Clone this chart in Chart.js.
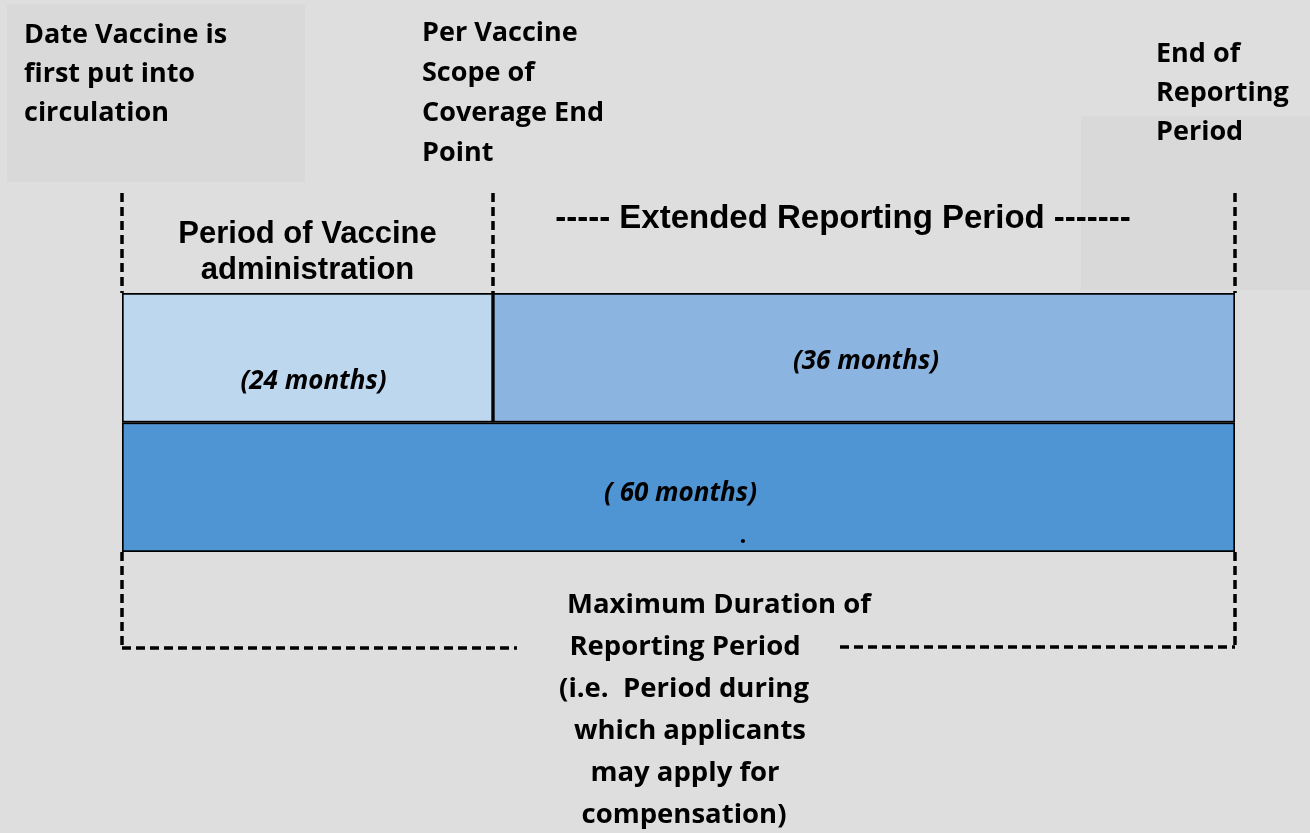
<!DOCTYPE html>
<html>
<head>
<meta charset="utf-8">
<script src="https://cdn.jsdelivr.net/npm/chart.js@4.4.0/dist/chart.umd.min.js"></script>
<style>
	html, body { margin: 0; padding: 0; background: #dedede; }
	#wrap { width: 1310px; height: 833px; position: relative; }
</style>
</head>
<body>
<div id="wrap"><canvas id="period-chart"></canvas></div>
<script>
// rows of the timeline
var rows = ['Administration / extended', 'Maximum duration'];
// drawn span of each segment (the picture is not to scale: the first box is a third of the row)
var adminSpan = [20, 0];
var extendedSpan = [40, 0];
var maxSpan = [0, 60];
var segmentLabels = ['(24 months)', '(36 months)', '( 60 months)'];
var axisMax = 60;

var barColours = ['#bdd7ee', '#8bb5e0', '#4f94d3'];

var calibri = '"Open Sans", Lato, sans-serif';
var arial = '"Liberation Sans", Arial, sans-serif';

function dashedLine(ctx, x1, y1, x2, y2){
	ctx.beginPath();
	ctx.moveTo(x1, y1);
	ctx.lineTo(x2, y2);
	ctx.stroke();
}

function lines(ctx, list, x, y, step){
	list.forEach(function(t, i){
		ctx.fillText(t, x, y + i * step);
	});
}

var diagramPlugin = {
	id: 'diagram',
	beforeDraw: function(chart){
		var ctx = chart.ctx;
		ctx.save();
		ctx.fillStyle = '#dedede';
		ctx.fillRect(0, 0, chart.width, chart.height);
		ctx.fillStyle = '#d9d9d9';
		ctx.fillRect(7, 4, 298, 178);
		ctx.fillRect(1081, 116, 229, 174);
		ctx.restore();
	},
	afterDatasetsDraw: function(chart){
		var ctx = chart.ctx;
		var x = chart.scales.x;
		var y = chart.scales.y;
		var x0 = x.getPixelForValue(0);
		var xSplit = x.getPixelForValue(adminSpan[0]);
		var xEnd = x.getPixelForValue(axisMax);
		var top = chart.chartArea.top;
		var bottom = chart.chartArea.bottom;

		ctx.save();
		// dashed markers
		ctx.strokeStyle = '#000';
		ctx.lineWidth = 3.5;
		ctx.setLineDash([9, 5]);
		[x0, xSplit, xEnd].forEach(function(px){
			dashedLine(ctx, px, 193, px, top);
		});
		dashedLine(ctx, x0, bottom, x0, 648);
		dashedLine(ctx, xEnd, bottom, xEnd, 648);
		dashedLine(ctx, x0, 648, 517, 648);
		dashedLine(ctx, 840, 647, xEnd, 647);
		ctx.setLineDash([]);

		// segment labels
		ctx.fillStyle = '#000';
		ctx.textAlign = 'center';
		ctx.textBaseline = 'middle';
		ctx.font = 'italic bold 26px ' + calibri;
		ctx.fillText(segmentLabels[0], (x0 + xSplit) / 2 + 6, y.getPixelForValue(0) + 24);
		ctx.fillText(segmentLabels[1], (xSplit + xEnd) / 2 + 2, y.getPixelForValue(0) + 4);
		ctx.fillText(segmentLabels[2], (x0 + xEnd) / 2 + 2, y.getPixelForValue(1) + 6);
		ctx.font = 'bold 24px ' + calibri;
		ctx.fillText('.', 743, 536);

		// headings
		ctx.font = 'bold 31px ' + arial;
		lines(ctx, ['Period of Vaccine', 'administration'], (x0 + xSplit) / 2, 234, 36);
		ctx.font = 'bold 33px ' + arial;
		ctx.fillText('----- Extended Reporting Period -------', 843, 219);

		ctx.textAlign = 'left';
		ctx.font = 'bold 27px ' + calibri;
		lines(ctx, ['Date Vaccine is', 'first put into', 'circulation'], 24, 35, 39);
		lines(ctx, ['Per Vaccine', 'Scope of', 'Coverage End', 'Point'], 422, 33, 40);
		lines(ctx, ['End of', 'Reporting', 'Period'], 1156, 54, 39);

		ctx.textAlign = 'center';
		ctx.font = 'bold 27.5px ' + calibri;
		var bottomText = ['Maximum Duration of', 'Reporting Period', '(i.e.  Period during', 'which applicants', 'may apply for', 'compensation)'];
		var bottomX = [719, 685, 684, 690, 685, 684];
		bottomText.forEach(function(t, i){
			ctx.fillText(t, bottomX[i], 605 + i * 42);
		});
		ctx.restore();
	}
};

var chartElem = document.getElementById('period-chart');

var periodChart = new Chart(chartElem, {
	type: 'bar',
	data: {
		labels: rows,
		datasets: [
			{ label: 'Period of Vaccine administration', data: adminSpan, backgroundColor: barColours[0] },
			{ label: 'Extended Reporting Period', data: extendedSpan, backgroundColor: barColours[1] },
			{ label: 'Maximum Duration of Reporting Period', data: maxSpan, backgroundColor: barColours[2] }
		].map(function(ds){
			ds.borderColor = '#000';
			ds.borderWidth = 2;
			ds.borderSkipped = false;
			ds.categoryPercentage = 1;
			ds.barPercentage = 1;
			return ds;
		})
	},
	options: {
		indexAxis: 'y',
		responsive: true,
		maintainAspectRatio: false,
		animation: false,
		layout: {
			padding: { left: 122, right: 75, top: 293, bottom: 281 }
		},
		scales: {
			x: { stacked: true, min: 0, max: axisMax, display: false },
			y: { stacked: true, display: false }
		},
		plugins: {
			legend: { display: false },
			tooltip: { enabled: false }
		}
	},
	plugins: [diagramPlugin]
});
</script>
</body>
</html>
